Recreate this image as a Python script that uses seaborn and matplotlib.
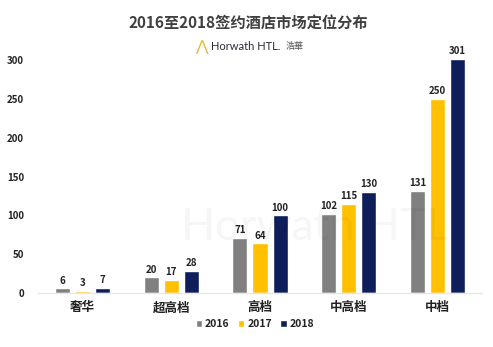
import matplotlib
matplotlib.use("Agg")
import matplotlib.pyplot as plt
import seaborn as sns
import pandas as pd

categories = ["奢华", "超高档", "高档", "中高档", "中档"]
years = ["2016", "2017", "2018"]
values_2016 = [6, 20, 71, 102, 131]
values_2017 = [3, 17, 64, 115, 250]
values_2018 = [7, 28, 100, 130, 301]
yticks = [0, 50, 100, 150, 200, 250, 300]
title = "2016至2018签约酒店市场定位分布"
colors = ["#808080", "#FFC000", "#0E1E5B"]

rows = []
for y, vals in zip(years, [values_2016, values_2017, values_2018]):
    for c, v in zip(categories, vals):
        rows.append({"cat": c, "year": y, "value": v})
df = pd.DataFrame(rows)

sns.set_theme(style="white")
plt.rcParams['font.family'] = ['Noto Sans CJK SC', 'DejaVu Sans']

fig = plt.figure(figsize=(4.93, 3.47), dpi=100)
ax = fig.add_axes([38/493, 54/347, 444/493, 248.5/347])

# faint watermark behind the bars
fig.text(315/493, 1 - 228/347, "Horwath HTL", ha="center", va="center",
         fontsize=32, color="#000000", alpha=0.035, family=["Lato"], zorder=0)

sns.barplot(data=df, x="cat", y="value", hue="year", palette=colors,
            width=0.68, gap=0.25, ax=ax, legend=True, saturation=1)
ax.patch.set_alpha(0)

for cont in ax.containers:
    ax.bar_label(cont, padding=2, fontsize=7, fontweight="bold", color="#222222")

ax.set_ylim(0, 320)
ax.set_xlim(-0.5, 4.5)
ax.set_yticks(yticks)
ax.set_yticklabels([str(t) for t in yticks], fontsize=7, fontweight="bold", color="#222222")
ax.tick_params(axis="y", pad=10, length=0)
ax.tick_params(axis="x", pad=6, length=0)
for lab in ax.get_xticklabels():
    lab.set_fontsize(9)
    lab.set_fontweight("bold")
    lab.set_color("#222222")
ax.set_xlabel("")
ax.set_ylabel("")
for s in ["top", "right", "left"]:
    ax.spines[s].set_visible(False)
ax.spines["bottom"].set_color("#e6e6e6")
ax.spines["bottom"].set_linewidth(1)

leg = ax.legend(loc="center", bbox_to_anchor=(255/493, 1 - 324/347),
                bbox_transform=fig.transFigure, ncol=3, frameon=False,
                handlelength=0.6, handleheight=0.6, handletextpad=0.3,
                columnspacing=0.8, prop={"size": 7.5, "weight": "bold"})
for t in leg.get_texts():
    t.set_color("#222222")

fig.text(248/493, 1 - 23/347, title, ha="center", va="center",
         fontsize=11, fontweight="bold", color="#404040")
# logo
fig.text(201/493, 1 - 47/347, "⋀", ha="center", va="center", fontsize=11,
         color="#E8B82A", family=["DejaVu Sans"])
fig.text(211/493, 1 - 47/347, "Horwath HTL.", ha="left", va="center",
         fontsize=8, color="#2b2b3a", family=["Lato"])
fig.text(286/493, 1 - 47/347, "浩華", ha="left", va="center",
         fontsize=6.5, color="#555555")

fig.savefig("out.png", dpi=100)
